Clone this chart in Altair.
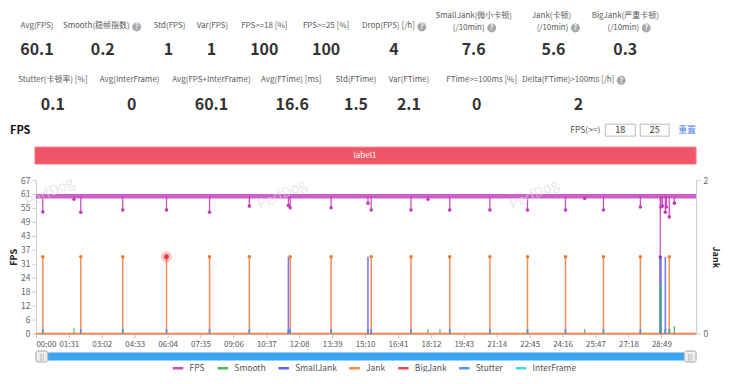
import altair as alt
import pandas as pd

FONT = "Noto Sans CJK SC"

# ---------------- data ----------------
series_names = ["FPS", "Smooth", "SmallJank", "Jank", "BigJank", "Stutter", "InterFrame"]
series_colors = ["#c23cb9", "#3cb44b", "#4f4ff0", "#f47a32", "#e8343c", "#3d8ee8", "#34d3e3"]

stats_row1_labels = [["Avg(FPS)"], ["Smooth(稳帧指数)"], ["Std(FPS)"], ["Var(FPS)"],
                     ["FPS>=18 [%]"], ["FPS>=25 [%]"], ["Drop(FPS) [/h]"],
                     ["SmallJank(微小卡顿)", "(/10min)"], ["Jank(卡顿)", "(/10min)"],
                     ["BigJank(严重卡顿)", "(/10min)"]]
stats_row1_values = ["60.1", "0.2", "1", "1", "100", "100", "4", "7.6", "5.6", "0.3"]
stats_row2_labels = ["Stutter(卡顿率) [%]", "Avg(InterFrame)", "Avg(FPS+InterFrame)",
                     "Avg(FTime) [ms]", "Std(FTime)", "Var(FTime)", "FTime>=100ms [%]",
                     "Delta(FTime)>100ms [/h]"]
stats_row2_values = ["0.1", "0", "60.1", "16.6", "1.5", "2.1", "0", "2"]

x_tick_labels = ["00:00", "01:31", "03:02", "04:33", "06:04", "07:35", "09:06", "10:37",
                 "12:08", "13:39", "15:10", "16:41", "18:12", "19:43", "21:14", "22:45",
                 "24:16", "25:47", "27:18", "28:49"]
x_end = 1825  # seconds, end of the recording
fps_ticks = [0, 6.1, 12.2, 18.3, 24.4, 30.5, 36.6, 42.7, 48.8, 54.9, 61, 67.1]
jank_ticks = [0, 1, 2]

fps_baseline = 60
fps_band_low = 59
fps_band_high = 61
fps_dip_times = [19, 105, 124, 240, 361, 480, 590, 698, 703, 816, 918, 927, 1037, 1084,
                 1144, 1255, 1359, 1464, 1517, 1569, 1671, 1726, 1728, 1732, 1740, 1743,
                 1751, 1765]
fps_dip_values = [53.1, 58.7, 53, 54, 54, 53, 55.7, 56, 55, 55, 57, 54, 54, 58.7,
                  54, 54, 54, 54, 59, 54, 55.3, 33.5, 55.3, 55.7, 53, 55.3,
                  51, 57]

jank_times = [19, 124, 240, 361, 480, 590, 703, 816, 927, 1037, 1144, 1255, 1359, 1464,
              1569, 1671, 1751]
jank_values = [1, 1, 1, 1, 1, 1, 1, 1, 1, 1, 1, 1, 1, 1, 1, 1, 1]
bigjank_times = [361]
bigjank_values = [1]
smalljank_times = [698, 918, 1725, 1728, 1740]
smalljank_values = [1, 1, 1, 1, 1]
stutter_times = [19, 124, 240, 361, 480, 590, 698, 703, 816, 918, 927, 1037, 1144, 1255,
                 1359, 1464, 1569, 1671, 1727, 1740, 1751]
stutter_values = [0.06, 0.06, 0.06, 0.06, 0.06, 0.06, 0.06, 0.06, 0.06, 0.06, 0.06, 0.06,
                  0.06, 0.06, 0.06, 0.06, 0.06, 0.06, 0.6, 0.06, 0.06]
smooth_times = [105, 1084, 1117, 1517, 1727, 1751, 1765]
smooth_values = [0.07, 0.06, 0.06, 0.06, 0.66, 0.05, 0.1]

# ---------------- helpers ----------------
COL = dict(zip(series_names, series_colors))
x_tick_secs = [int(s[:2]) * 60 + int(s[3:]) for s in x_tick_labels]
one = pd.DataFrame({"k": [0]})
OX, OY = 36, 180  # page position of the plot origin
LBL = 8  # header label font size


def T(s, x, y, size=LBL, color="#5a5a5a", weight="normal", align="center", angle=0, opacity=1.0):
    return alt.Chart(one).mark_text(
        fontSize=size, color=color, fontWeight=weight, align=align, baseline="middle",
        font=FONT, angle=angle, opacity=opacity
    ).encode(x=alt.value(x - OX), y=alt.value(y - OY), text=alt.value(s))


def R(x1, y1, x2, y2, fill, stroke=None, radius=0, sw=1):
    kw = dict(color=fill, cornerRadius=radius)
    if stroke:
        kw.update(stroke=stroke, strokeWidth=sw)
    return alt.Chart(one).mark_rect(**kw).encode(
        x=alt.value(x1 - OX), x2=alt.value(x2 - OX), y=alt.value(y1 - OY), y2=alt.value(y2 - OY))


def ICON(x, y):
    c = alt.Chart(one).mark_point(filled=True, shape="circle", size=80, color="#a9a9a9", opacity=1).encode(
        x=alt.value(x - OX), y=alt.value(y - OY))
    return [c, T("?", x, y + 0.5, size=7, color="white", weight="bold")]


xscale = alt.Scale(domain=[0, x_end], nice=False, zero=False)
xaxis = alt.Axis(values=x_tick_secs, labelExpr="utcFormat(datum.value * 1000, '%M:%S')",
                 title=None, grid=False, domainColor="#b8c4d6", tickColor="#b8c4d6", tickSize=4,
                 labelColor="#555", labelFontSize=8, labelFont=FONT, labelFlush=True,
                 labelOverlap=False, labelPadding=3)
fscale = alt.Scale(domain=[0, 67.1], nice=False)
faxis = alt.Axis(values=fps_ticks, labelExpr="round(datum.value)", title="FPS", orient="left",
                 grid=False, domainColor="#c8cdd8", tickColor="#c8cdd8", tickSize=4,
                 labelColor="#666", labelFontSize=8.5, labelFont=FONT, labelPadding=2,
                 labelOverlap=False,
                 titleFont=FONT, titleFontSize=9, titleFontWeight="bold", titleColor="#222",
                 titlePadding=2)
jscale = alt.Scale(domain=[0, 2], nice=False)
jaxis = alt.Axis(values=jank_ticks, format="d", title="Jank", orient="right", grid=False,
                 domainColor="#c8cdd8", tickColor="#c8cdd8", tickSize=4,
                 labelColor="#666", labelFontSize=8.5, labelFont=FONT, labelPadding=3,
                 titleFont=FONT, titleFontSize=9, titleFontWeight="bold", titleColor="#222",
                 titlePadding=3)
legend = alt.Legend(title=None, orient="none", legendX=136, legendY=182, direction="horizontal",
                    columns=7, symbolType="stroke", symbolStrokeWidth=2.5, symbolSize=110,
                    labelFontSize=8.5, labelColor="#555", labelFont=FONT, columnPadding=7,
                    labelOffset=5)
color = alt.Color("series:N", scale=alt.Scale(domain=series_names, range=series_colors), legend=legend)


def X(f):
    return alt.X(f, type="quantitative", scale=xscale, axis=xaxis)


def YF(f):
    return alt.Y(f, type="quantitative", scale=fscale, axis=faxis)


def YJ(f):
    return alt.Y(f, type="quantitative", scale=jscale, axis=jaxis)


# ---------------- FPS group ----------------
band_df = pd.DataFrame({"t0": [0], "t1": [x_end], "lo": [fps_band_low], "hi": [fps_band_high]})
dip_df = pd.DataFrame({"t": fps_dip_times, "dip": fps_dip_values,
                       "base": [fps_baseline] * len(fps_dip_times), "series": "FPS"})

fps_band = alt.Chart(band_df).mark_rect(color=COL["FPS"], opacity=0.82).encode(
    x=X("t0"), x2="t1", y=YF("lo"), y2="hi")
fps_rules = alt.Chart(dip_df).mark_rule(strokeWidth=1.3, opacity=0.9).encode(
    x=X("t"), y=YF("base"), y2="dip", color=color)
fps_pts = alt.Chart(dip_df).mark_circle(size=13, color=COL["FPS"], opacity=1).encode(
    x=X("t"), y=YF("dip"))
fps_group = alt.layer(fps_band, fps_rules, fps_pts)

# ---------------- Jank group ----------------
def spikes(times, values, name):
    return pd.DataFrame({"t": times, "v": values, "z": [0] * len(times), "series": name})


jank_df = spikes(jank_times, jank_values, "Jank")
small_df = spikes(smalljank_times, smalljank_values, "SmallJank")
stut_df = spikes(stutter_times, stutter_values, "Stutter")
smooth_df = spikes(smooth_times, smooth_values, "Smooth")
big_df = spikes(bigjank_times, bigjank_values, "BigJank")
base_df = pd.DataFrame({"t0": [0], "t1": [x_end], "v": [0], "series": ["Jank"]})

j_base = alt.Chart(base_df).mark_rule(strokeWidth=1.6, opacity=0.9).encode(
    x=X("t0"), x2="t1", y=YJ("v"), color=color)
j_small = alt.Chart(small_df).mark_rule(strokeWidth=1.6, opacity=0.75).encode(
    x=X("t"), y=YJ("z"), y2="v", color=color)
j_rules = alt.Chart(jank_df).mark_rule(strokeWidth=1.5, opacity=0.85).encode(
    x=X("t"), y=YJ("z"), y2="v", color=color)
j_pts = alt.Chart(jank_df).mark_circle(size=13, color=COL["Jank"], opacity=1).encode(
    x=X("t"), y=YJ("v"))
j_stut = alt.Chart(stut_df).mark_rule(strokeWidth=1.8, opacity=0.85).encode(
    x=X("t"), y=YJ("z"), y2="v", color=color)
j_smooth = alt.Chart(smooth_df).mark_rule(strokeWidth=1.2, opacity=0.9).encode(
    x=X("t"), y=YJ("z"), y2="v", color=color)
j_big_halo = alt.Chart(big_df).mark_circle(size=120, color=COL["BigJank"], opacity=0.28).encode(
    x=X("t"), y=YJ("v"))
j_big = alt.Chart(big_df).mark_circle(size=24, color=COL["BigJank"], opacity=1).encode(
    x=X("t"), y=YJ("v"))
jank_group = alt.layer(j_base, j_small, j_rules, j_pts, j_stut, j_smooth, j_big_halo, j_big)

# ---------------- decorations (header, controls, slider) ----------------
deco = []
row1_label_x = [37, 99, 170, 213, 265, 327, 388, 475, 553, 627]
row1_value_x = [37, 103, 169, 212, 265, 327, 395, 475, 555, 627]
row1_icon_x = {1: 137, 6: 423, 7: 493, 8: 577, 9: 648}
for i, lines in enumerate(stats_row1_labels):
    ix = row1_icon_x.get(i)
    if len(lines) == 1:
        if ix:
            deco.append(T(lines[0], ix - 7, 26, align="right"))
        else:
            deco.append(T(lines[0], row1_label_x[i], 26))
    else:
        deco.append(T(lines[0], row1_label_x[i], 16))
        deco.append(T(lines[1], ix - 7, 27.5, align="right"))
    if ix:
        deco += ICON(ix, 26.5 if len(lines) == 1 else 27.5)
    deco.append(T(stats_row1_values[i], row1_value_x[i], 50, size=16, color="#333", weight="bold"))

row2_label_x = [53, 130, 212, 292, 357, 410, 483, 577]
row2_value_x = [53, 132, 212, 293, 357, 410, 478, 580]
for i, lab in enumerate(stats_row2_labels):
    if i == 7:
        deco.append(T(lab, 616, 80, align="right"))
        deco += ICON(623, 80)
    else:
        deco.append(T(lab, row2_label_x[i], 80))
    deco.append(T(stats_row2_values[i], row2_value_x[i], 105, size=16, color="#333", weight="bold"))

# chart title and threshold controls
deco.append(T("FPS", 10, 131, size=11, color="#111", weight="bold", align="left"))
deco.append(T("FPS(>=)", 587, 130, size=8.5, color="#555"))
deco.append(R(607, 124, 637, 136, "white", "#bbb"))
deco.append(R(642, 124, 671, 136, "white", "#bbb"))
deco.append(T("18", 622, 130, size=9, color="#333"))
deco.append(T("25", 656.5, 130, size=9, color="#333"))
deco.append(T("重置", 689, 130, size=9, color="#4d7ff0"))

# label band
deco.append(R(35, 147, 698, 164, "#ef5566", "#f47f8b", sw=1))
deco.append(T("label1", 366, 156, size=8, color="white"))

# watermarks
for wx, wy in [(50, 193), (283, 195), (536, 195)]:
    deco.append(T("PerfDog", wx, wy, size=14, color="#d9d9d9", angle=335, opacity=0.6))

# zoom slider
deco.append(R(36, 353, 698, 361, "#3aa6ef"))
deco.append(R(36, 351.5, 48, 362.5, "#eeeeee", "#a8a8a8", radius=2))
deco.append(R(686, 351.5, 698, 362.5, "#eeeeee", "#a8a8a8", radius=2))
deco.append(T("|||", 42, 357, size=6, color="#888"))
deco.append(T("|||", 692, 357, size=6, color="#888"))

chart = alt.layer(fps_group, jank_group, *deco).resolve_scale(y="independent").properties(
    width=662, height=154,
    autosize=alt.AutoSizeParams(type="none"),
    padding={"left": 28, "top": 172, "right": 26, "bottom": 38},
    background="white",
).configure_view(stroke=None)

chart.save("out.html", embed_options={"renderer": "svg", "actions": False})
